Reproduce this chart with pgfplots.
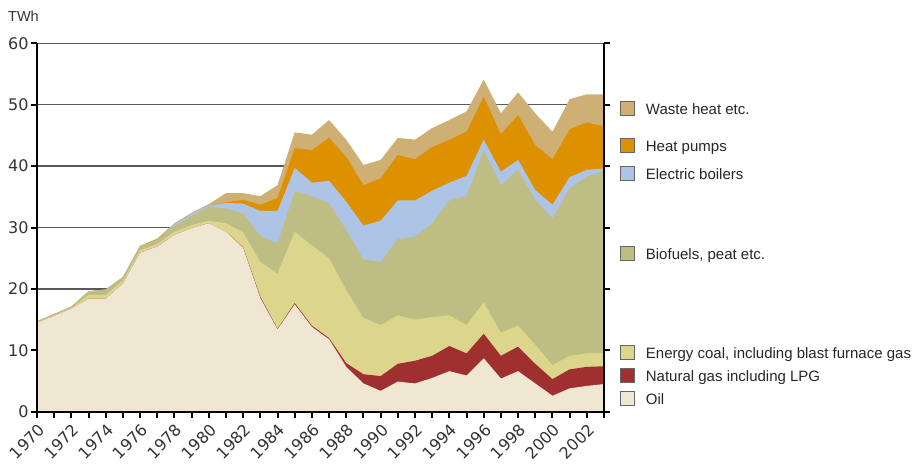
\documentclass[border=0pt]{standalone}
\usepackage{fontspec}
\setmainfont{Liberation Sans}
\newfontfamily\tickfont{DejaVu Sans}
\usepackage{pgfplots}
\usepackage{pgfplotstable}
\pgfplotsset{compat=1.18}

% grid under the areas, axis lines and ticks over them
\pgfplotsset{
  /pgfplots/layers/gridbelow/.define layer set={
    axis background,axis grid,main,axis ticks,axis lines,axis tick labels,
    axis descriptions,axis foreground
  }{/pgfplots/layers/standard},
}

\definecolor{oilc}{RGB}{240,231,210}
\definecolor{gasc}{RGB}{160,48,48}
\definecolor{coalc}{RGB}{220,214,140}
\definecolor{bioc}{RGB}{190,189,132}
\definecolor{elecc}{RGB}{174,196,230}
\definecolor{heatc}{RGB}{221,145,0}
\definecolor{wastec}{RGB}{206,175,116}

% cumulative tops of each layer (TWh)
\pgfplotstableread{
year oil  gas  coal bio  elec heat waste
1970 14.5 14.5 14.6 14.7 14.7 14.7 14.7
1971 15.6 15.6 15.7 15.9 15.9 15.9 15.9
1972 16.8 16.8 16.9 17.1 17.1 17.1 17.1
1973 18.4 18.4 19.0 19.6 19.6 19.6 19.6
1974 18.4 18.4 19.0 19.9 19.9 19.9 19.9
1975 20.9 20.9 21.3 21.9 21.9 21.9 21.9
1976 25.9 25.9 26.3 27.0 27.0 27.0 27.0
1977 26.9 26.9 27.3 28.0 28.0 28.1 28.2
1978 28.8 28.8 29.3 30.3 30.6 30.6 30.7
1979 29.9 29.9 30.4 31.9 32.3 32.3 32.4
1980 30.7 30.7 31.1 33.4 33.6 33.6 33.8
1981 29.3 29.3 30.7 33.1 34.0 34.1 35.6
1982 26.7 26.8 29.2 32.3 33.9 34.5 35.6
1983 18.5 18.7 24.4 28.6 32.7 33.7 35.1
1984 13.4 13.5 22.5 27.4 32.7 34.8 36.9
1985 17.5 17.7 29.3 35.9 39.7 42.9 45.5
1986 13.8 14.0 27.1 35.1 37.3 42.6 45.1
1987 11.8 12.0 25.0 33.9 37.6 44.6 47.5
1988 7.3  7.9  19.8 29.6 34.2 41.5 44.3
1989 4.6  6.1  15.3 24.8 30.3 36.9 40.2
1990 3.4  5.8  14.1 24.4 31.1 38.0 41.0
1991 4.9  7.8  15.7 28.1 34.4 41.8 44.6
1992 4.6  8.3  15.0 28.5 34.4 41.1 44.3
1993 5.5  9.1  15.4 30.7 36.0 43.1 46.2
1994 6.6  10.7 15.7 34.4 37.3 44.3 47.5
1995 5.9  9.5  14.1 35.1 38.4 45.6 48.9
1996 8.7  12.7 17.8 42.6 44.3 51.3 54.1
1997 5.4  9.1  12.9 36.9 39.1 45.2 48.6
1998 6.6  10.6 14.0 39.4 41.0 48.3 52.0
1999 4.6  7.8  10.9 34.5 36.1 43.4 48.6
2000 2.6  5.3  7.6  31.5 33.7 41.1 45.6
2001 3.8  6.9  9.1  36.4 38.2 46.0 50.9
2002 4.2  7.3  9.5  38.3 39.4 47.1 51.7
2003 4.5  7.4  9.6  39.2 39.6 46.5 51.7
}\energy

\newcommand\legitem[3]{%
  \draw[fill=#1, draw=black!60, line width=0.6pt] (583pt,#2pt-7pt) rectangle ++(14pt,14pt);
  \node[anchor=base west, inner sep=0pt, font=\fontsize{15}{18}\selectfont, color=black!85] at (608.7pt,#2pt-6pt) {#3};}

\begin{document}
\begin{tikzpicture}
\begin{axis}[
    set layers=gridbelow,
    at={(0,0)}, anchor=south west,
    scale only axis,
    width=567pt, height=368.4pt,
    xmin=1970, xmax=2003,
    ymin=0, ymax=60,
    axis x line*=bottom,
    axis y line*=box,
    axis line style={black, line width=2.2pt},
    xtick={1970,1972,...,2002},
    minor xtick={1971,1973,...,2003},
    ytick={0,10,...,60},
    xtick align=outside,
    ytick align=outside,
    major tick length=6pt,
    minor tick length=6pt,
    tick style={black, line width=2pt},
    minor tick style={black, line width=2pt},
    ymajorgrids,
    major grid style={color=black!65, line width=1.2pt},
    /pgf/number format/1000 sep={},
    /pgf/number format/assume math mode=true,
    tick label style={font=\tickfont\fontsize{16}{18}\selectfont, color=black!80},
    xticklabel style={xshift=7pt, yshift=-7pt, rotate=45, anchor=east},
    yticklabel style={xshift=1pt},
]
\addplot[fill=wastec, draw=none] table[x=year, y=waste] {\energy} \closedcycle;
\addplot[fill=heatc, draw=none] table[x=year, y=heat] {\energy} \closedcycle;
\addplot[fill=elecc, draw=none] table[x=year, y=elec] {\energy} \closedcycle;
\addplot[fill=bioc, draw=none] table[x=year, y=bio] {\energy} \closedcycle;
\addplot[fill=coalc, draw=none] table[x=year, y=coal] {\energy} \closedcycle;
\addplot[fill=gasc, draw=none] table[x=year, y=gas] {\energy} \closedcycle;
\addplot[fill=oilc, draw=none] table[x=year, y=oil] {\energy} \closedcycle;
\end{axis}

\node[anchor=base west, inner sep=0pt, font=\fontsize{14.5}{17}\selectfont, color=black!80] at (-29pt,389.7pt) {TWh};

\legitem{wastec}{303.4}{Waste heat etc.}
\legitem{heatc}{266}{Heat pumps}
\legitem{elecc}{238.4}{Electric boilers}
\legitem{bioc}{158.4}{Biofuels, peat etc.}
\legitem{coalc}{59}{Energy coal, including blast furnace gas}
\legitem{gasc}{36}{Natural gas including LPG}
\legitem{oilc}{13.4}{Oil}

\pgfresetboundingbox
\path[use as bounding box] (-37pt,-57.3pt) rectangle (878pt,411.7pt);
\end{tikzpicture}
\end{document}
